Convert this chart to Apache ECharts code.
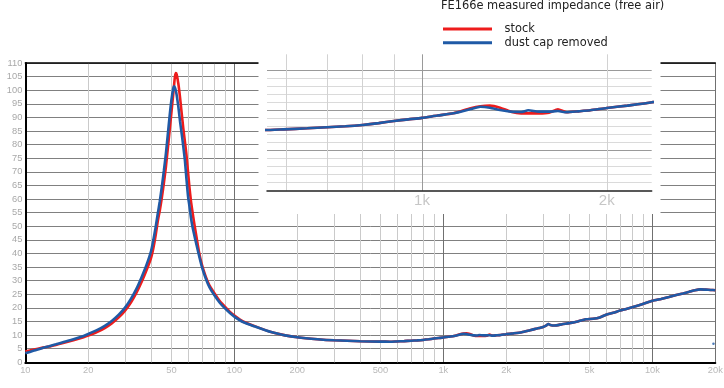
<!DOCTYPE html>
<html><head><meta charset="utf-8">
<script src="https://cdn.jsdelivr.net/npm/echarts@6/dist/echarts.min.js"></script>
<style>html,body{margin:0;padding:0;background:#fff}#c{width:724px;height:388px}</style>
</head><body><div id="c"></div>
<script>
// ---- data ----
const freqHz = [10,11,12,13,14,15,17,19,20,22,24,26,28,30,32,34,36,38,40,41,42,43,44,45,46,47,48,49,50,51,51.5,52,52.5,53,54,55,56,57,58,59,60,61,62,63,64,66,68,70,73,76,80,85,90,95,100,110,125,150,175,200,250,300,400,500,555,595,650,700,750,800,850,900,950,1000,1060,1125,1200,1245,1290,1340,1395,1450,1490,1550,1610,1665,1720,1800,1880,2000,2160,2370,2600,2800,3000,3100,3180,3250,3400,3700,4000,4400,4800,5200,5600,6000,6500,7000,7500,8000,9000,10000,11000,12000,13000,14000,15000,16000,17000,18000,19000,20000];
const stockOhm = [4.0,4.7,5.3,5.8,6.4,7.0,8.1,9.2,9.8,11.1,12.6,14.4,16.5,19.0,22.0,25.5,29.5,33.8,38.5,42.0,46.5,51.7,55.8,60.5,65.8,71.5,78.2,85.0,91.8,98.5,102.0,105.0,106.3,105.8,102.3,97.3,91.5,86.0,81.2,76.3,70.3,64.3,59.3,55.5,52.0,45.8,40.0,35.8,31.5,28.3,25.6,22.6,20.5,18.6,17.2,15.0,13.3,11.1,9.9,9.2,8.5,8.1,7.75,7.6,7.58,7.67,7.8,7.93,8.05,8.22,8.45,8.72,8.92,9.1,9.4,9.67,10.3,10.55,10.63,10.38,9.88,9.67,9.67,9.67,9.75,10.17,9.8,9.92,10.05,10.34,10.63,11.05,11.8,12.4,13.0,13.5,14.1,13.7,13.5,14.0,14.4,15.0,15.8,16.0,16.5,17.5,18.2,19.0,19.6,20.2,21.4,22.6,23.3,24.0,24.7,25.3,25.9,26.5,26.8,26.7,26.6,26.5];
const dustCapRemovedOhm = [3.3,4.3,5.2,5.9,6.6,7.3,8.5,9.7,10.4,11.8,13.4,15.3,17.5,20.1,23.3,27.0,31.3,35.8,41.0,45.0,49.5,54.5,59.2,64.5,70.3,76.3,83.3,90.3,96.3,100.6,101.4,100.9,99.8,98.2,93.8,88.5,84.0,79.3,74.3,67.5,61.3,57.3,53.2,50.0,47.5,43.0,38.8,35.0,30.8,27.6,24.8,22.0,19.9,18.2,16.8,14.8,13.2,11.1,9.9,9.2,8.5,8.1,7.75,7.6,7.58,7.67,7.8,7.93,8.05,8.22,8.45,8.72,8.92,9.1,9.4,9.67,10.2,10.5,10.38,10.09,9.88,9.84,10.05,9.88,9.88,9.96,9.8,9.92,10.05,10.34,10.63,11.05,11.8,12.4,13.0,13.5,14.1,13.7,13.5,14.0,14.4,15.0,15.8,16.0,16.5,17.5,18.2,19.0,19.6,20.2,21.4,22.6,23.3,24.0,24.7,25.3,25.9,26.5,26.8,26.7,26.6,26.5];
const strayDot = [[19600, 6.8]];

const xTickValues = [10,20,50,100,200,500,1000,2000,5000,10000,20000];
const xTickLabels = ['10','20','50','100','200','500','1k','2k','5k','10k','20k'];
const minorGridHz = [20,30,40,50,60,70,80,90,200,300,400,500,600,700,800,900,2000,3000,4000,5000,6000,7000,8000,9000];

const insetTickValues = [1000, 2000];
const insetTickLabels = ['1k', '2k'];
const insetLightHz = [600,700,800,900,2000];
const insetDarkHz = [1000];
const insetYMajor = [5,10,15];
const insetYMinor = [1,2,3,4,6,7,8,9,11,12,13,14];

const titleText = 'FE166e measured impedance (free air)';
const seriesNames = ['stock', 'dust cap removed'];

// ---- build ----
const RED = '#ee1c1c', BLUE = '#1f5aa6';
const pair = (xs, ys) => xs.map((x, i) => [x, ys[i]]);
const FONT = 'Liberation Sans';
const TFONT = 'DejaVu Sans';
const SMOOTH = 0.2;

const chart = echarts.init(document.getElementById('c'), null, {renderer: 'canvas'});
chart.setOption({
  animation: false,
  backgroundColor: '#fff',
  title: {
    text: titleText, left: 441, top: 1, padding: 0,
    textStyle: {fontFamily: TFONT, fontSize: 11.4, fontWeight: 'normal', color: '#222'}
  },
  legend: {
    data: seriesNames, orient: 'vertical', left: 443, top: 23.6, padding: 0,
    itemWidth: 49, itemHeight: 3, itemGap: 2.6, icon: 'rect',
    textStyle: {fontFamily: TFONT, fontSize: 11.4, color: '#222', padding: [0, 0, 0, 7.6]}
  },
  grid: [
    {left: 25.3, top: 63, width: 690, height: 299.3},
    {left: 267, top: 54.3, width: 384.7, height: 136.4}
  ],
  xAxis: [
    {type: 'log', logBase: 10, min: 10, max: 20000, gridIndex: 0, z: 0,
     axisLine: {show: true, onZero: false, lineStyle: {color: '#000', width: 2}},
     axisTick: {show: false}, axisLabel: {show: false},
     splitLine: {show: true, lineStyle: {color: '#707070', width: 1}}},
    {type: 'log', logBase: 10, min: 10, max: 20000, gridIndex: 0, position: 'top', z: 1,
     axisLine: {show: true, onZero: false, lineStyle: {color: '#000', width: 1.5}},
     axisTick: {show: false}, axisLabel: {show: false}, splitLine: {show: false}},
    {type: 'log', logBase: 10, min: 559, max: 2367, gridIndex: 1, z: 7,
     axisLine: {show: true, onZero: false, lineStyle: {color: '#222', width: 1.5}},
     axisTick: {show: false}, axisLabel: {show: false}, splitLine: {show: false}}
  ],
  yAxis: [
    {type: 'value', min: 0, max: 110, interval: 5, gridIndex: 0, z: 0,
     axisLine: {show: true, onZero: false, lineStyle: {color: '#000', width: 2}},
     axisTick: {show: false},
     axisLabel: {show: true, margin: 3, fontFamily: FONT, fontSize: 9.3, color: '#a8a8a8'},
     splitLine: {show: true, lineStyle: {color: '#808080', width: 1}}},
    {type: 'value', min: 0, max: 17.05, gridIndex: 1, show: false, z: 6}
  ],
  graphic: [
    {type: 'rect', z: 5, silent: true, shape: {x: 258.5, y: 52, width: 402, height: 162},
     style: {fill: '#fff'}}
  ],
  series: [
    {type: 'scatter', name: 'xlabels', xAxisIndex: 0, yAxisIndex: 0, z: 1, silent: true,
     symbolSize: 0.01, itemStyle: {color: 'transparent'},
     data: xTickValues.map(v => [v, 0]),
     label: {show: true, position: 'bottom', distance: 4, fontFamily: FONT, fontSize: 9.3, color: '#a8a8a8',
             formatter: p => xTickLabels[p.dataIndex]},
     markLine: {z: 1, silent: true, symbol: 'none', label: {show: false},
                lineStyle: {type: 'solid', color: '#cacaca', width: 1},
                data: minorGridHz.map(v => ({xAxis: v}))}},
    {type: 'line', name: seriesNames[0], xAxisIndex: 0, yAxisIndex: 0, z: 3,
     data: pair(freqHz, stockOhm), showSymbol: false, smooth: SMOOTH, color: RED,
     lineStyle: {color: RED, width: 2.6}},
    {type: 'line', name: seriesNames[1], xAxisIndex: 0, yAxisIndex: 0, z: 4,
     data: pair(freqHz, dustCapRemovedOhm), showSymbol: false, smooth: SMOOTH, color: BLUE,
     lineStyle: {color: BLUE, width: 2.6}},
    {type: 'scatter', name: 'dot', xAxisIndex: 0, yAxisIndex: 0, z: 4, silent: true,
     symbolSize: 2.5, itemStyle: {color: BLUE}, data: strayDot},
    {type: 'scatter', name: 'insetlabels', xAxisIndex: 2, yAxisIndex: 1, z: 6, silent: true,
     symbolSize: 0.01, itemStyle: {color: 'transparent'},
     data: insetTickValues.map(v => [v, 0]),
     label: {show: true, position: 'bottom', distance: 3, fontFamily: FONT, fontSize: 15, color: '#b8b8b8',
             formatter: p => insetTickLabels[p.dataIndex]},
     markLine: {z: 6, silent: true, symbol: 'none', label: {show: false},
                data: [].concat(
                  insetYMinor.map(v => ({yAxis: v, lineStyle: {type: 'solid', color: '#dadada', width: 1}})),
                  insetYMajor.map(v => ({yAxis: v, lineStyle: {type: 'solid', color: '#9a9a9a', width: 1}})),
                  insetLightHz.map(v => ({xAxis: v, lineStyle: {type: 'solid', color: '#d2d2d2', width: 1}})),
                  insetDarkHz.map(v => ({xAxis: v, lineStyle: {type: 'solid', color: '#9a9a9a', width: 1}}))
                )}},
    {type: 'line', name: seriesNames[0], xAxisIndex: 2, yAxisIndex: 1, z: 8, clip: true,
     data: pair(freqHz, stockOhm), showSymbol: false, smooth: SMOOTH, color: RED,
     lineStyle: {color: RED, width: 2.6}},
    {type: 'line', name: seriesNames[1], xAxisIndex: 2, yAxisIndex: 1, z: 9, clip: true,
     data: pair(freqHz, dustCapRemovedOhm), showSymbol: false, smooth: SMOOTH, color: BLUE,
     lineStyle: {color: BLUE, width: 2.6}}
  ]
});
</script></body></html>
